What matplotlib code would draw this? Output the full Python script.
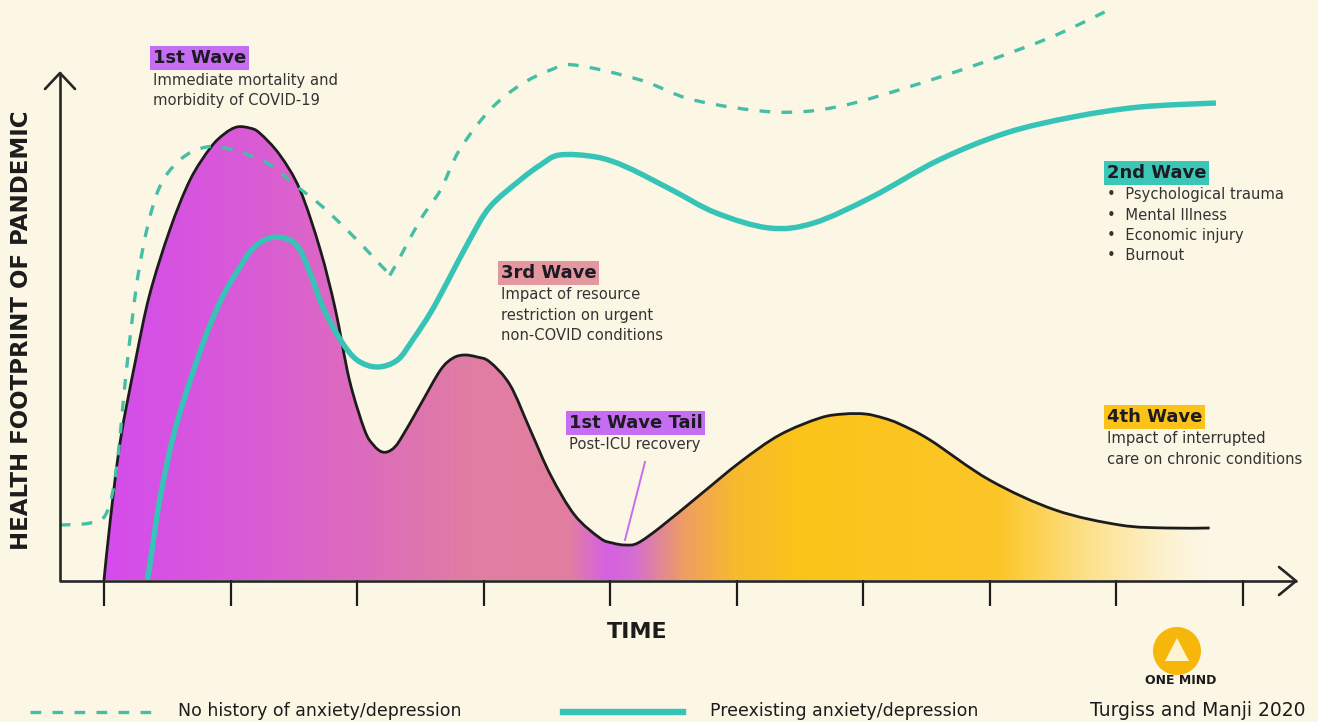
"""Health footprint of the pandemic: four waves sketch (Turgiss and Manji 2020)."""

import matplotlib

matplotlib.use("Agg")
import matplotlib.pyplot as plt
import numpy as np
from matplotlib.colors import LinearSegmentedColormap
from matplotlib.lines import Line2D
from matplotlib.patches import Ellipse, PathPatch, Polygon
from matplotlib.path import Path

W, H = 1318, 722

BG = "#FCF6E5"
INK = "#1C1C1C"
TEXT = "#333333"
TEAL = "#35C4B6"
TEAL_DASH = "#45BFA3"
VIOLET = "#C66EF2"
PINK = "#E3989F"
YELLOW = "#FBC21A"
TEAL_BOX = "#3CC6B6"

# time axis ticks
TICKS = list(range(10))

# total health footprint (black outline, filled)
total_t = [0.00, 0.05, 0.13, 0.25, 0.36, 0.52, 0.68, 0.84, 0.95, 1.05, 1.15, 1.23, 1.39,
           1.55, 1.71, 1.83, 1.94, 2.06, 2.13, 2.20, 2.27, 2.34, 2.50, 2.66, 2.76, 2.85,
           2.95, 3.05, 3.21, 3.37, 3.53, 3.72, 3.92, 4.02, 4.12, 4.22, 4.40, 4.71, 5.03,
           5.34, 5.66, 5.85, 6.02, 6.16, 6.29, 6.53, 7.00, 7.52, 8.03, 8.40, 8.74]
total_y = [0.0, 6.0, 14.0, 22.0, 28.5, 35.0, 40.0, 43.2, 44.6, 45.3, 45.2, 44.7, 42.5,
           39.0, 33.0, 27.0, 20.0, 15.0, 13.5, 12.8, 13.0, 14.0, 17.5, 21.0, 22.2, 22.5,
           22.3, 21.8, 19.5, 15.0, 10.5, 6.5, 4.2, 3.7, 3.5, 3.7, 5.3, 8.5, 11.8,
           14.5, 16.2, 16.6, 16.6, 16.2, 15.6, 14.0, 10.0, 7.0, 5.5, 5.2, 5.2]

# preexisting anxiety/depression (solid teal)
pre_t = [0.34, 0.36, 0.44, 0.55, 0.68, 0.81, 0.94, 1.08, 1.18, 1.31, 1.45, 1.55, 1.65,
         1.73, 1.87, 2.00, 2.16, 2.32, 2.44, 2.58, 2.71, 2.89, 3.05, 3.29, 3.45, 3.60,
         3.89, 4.13, 4.49, 4.84, 5.26, 5.61, 6.07, 6.60, 7.13, 7.66, 8.19, 8.79]
pre_y = [0.0, 1.3, 8.0, 14.5, 19.9, 24.6, 28.4, 31.4, 33.2, 34.2, 34.1, 33.0, 30.0,
         27.3, 24.0, 22.0, 21.3, 22.0, 24.0, 26.7, 29.7, 34.0, 37.3, 40.0, 41.5, 42.5,
         42.3, 41.3, 39.0, 36.7, 35.2, 35.7, 38.3, 42.0, 44.7, 46.3, 47.3, 47.7]

# no history of anxiety/depression (dashed teal)
none_t = [-0.35, -0.11, 0.02, 0.10, 0.18, 0.28, 0.42, 0.60, 0.81, 1.02, 1.29, 1.49, 1.73,
          2.00, 2.24, 2.27, 2.50, 2.66, 2.81, 3.05, 3.29, 3.53, 3.72, 4.24, 4.66, 5.30,
          5.79, 6.36, 6.96, 7.49, 7.91]
none_y = [5.5, 5.7, 6.7, 11.3, 21.3, 31.3, 38.7, 42.0, 43.3, 43.0, 41.7, 39.7, 37.3,
          34.0, 30.8, 30.7, 36.0, 39.0, 43.0, 47.0, 49.5, 51.0, 51.5, 50.0, 48.0, 46.8,
          47.3, 49.3, 51.8, 54.3, 56.8]

LEGEND_LABELS = ["No history of anxiety/depression", "Preexisting anxiety/depression"]
SOURCE = "Turgiss and Manji 2020"

WAVE_NOTES = [
    ("1st Wave", VIOLET, (153, 58), ["Immediate mortality and", "morbidity of COVID-19"]),
    ("3rd Wave", PINK, (501, 273), ["Impact of resource", "restriction on urgent", "non-COVID conditions"]),
    ("1st Wave Tail", VIOLET, (569, 423), ["Post-ICU recovery"]),
    ("2nd Wave", TEAL_BOX, (1107, 173), ["\u2022  Psychological trauma", "\u2022  Mental Illness",
                                          "\u2022  Economic injury", "\u2022  Burnout"]),
    ("4th Wave", YELLOW, (1107, 417), ["Impact of interrupted", "care on chronic conditions"]),
]


def fx(px):
    return px / W


def fy(py):
    return 1 - py / H


def smooth_path(xs, ys, close_to_base=False):
    """Bezier path through the read points (Catmull-Rom style handles)."""
    pts = np.column_stack([xs, ys]).astype(float)
    n = len(pts)
    verts = [pts[0]]
    codes = [Path.MOVETO]
    for i in range(n - 1):
        p0 = pts[max(i - 1, 0)]
        p1 = pts[i]
        p2 = pts[i + 1]
        p3 = pts[min(i + 2, n - 1)]
        verts += [p1 + (p2 - p0) / 6, p2 - (p3 - p1) / 6, p2]
        codes += [Path.CURVE4] * 3
    if close_to_base:
        verts += [(xs[-1], 0), (xs[0], 0), pts[0]]
        codes += [Path.LINETO, Path.LINETO, Path.CLOSEPOLY]
    return Path(verts, codes)


def main():
    plt.rcParams["font.family"] = ["DejaVu Sans"]
    fig = plt.figure(figsize=(W / 100, H / 100), dpi=100, facecolor=BG)
    ax = fig.add_axes([0, 0, 1, 1])
    ax.set_facecolor(BG)
    ax.set_xlim(-104 / 126.5, (W - 104) / 126.5)
    ax.set_ylim((580 - H) / 10, 58)
    ax.axis("off")

    # gradient fill under the total footprint curve
    cmap = LinearSegmentedColormap.from_list(
        "waves",
        [
            (0.00, "#D44CEC"),
            (0.12, "#D95AD8"),
            (0.24, "#DD6DBB"),
            (0.33, "#E17DA2"),
            (0.42, "#E17FA0"),
            (0.455, "#D560E2"),
            (0.48, "#D66ED0"),
            (0.525, "#EE9E62"),
            (0.57, "#F7B92E"),
            (0.63, "#FBC41A"),
            (0.81, "#FCC628"),
            (0.895, "#FDE290"),
            (0.97, "#FCF3D6"),
            (1.00, BG),
        ],
    )
    clip = PathPatch(smooth_path(total_t, total_y, close_to_base=True),
                     facecolor="none", edgecolor="none")
    ax.add_patch(clip)
    grad = np.linspace(0, 1, 512).reshape(1, -1)
    im = ax.imshow(grad, cmap=cmap, aspect="auto", extent=[total_t[0], total_t[-1], 0, 47],
                   origin="lower", zorder=1, interpolation="bilinear")
    im.set_clip_path(clip)

    ax.add_patch(PathPatch(smooth_path(total_t, total_y), facecolor="none", edgecolor=INK,
                           linewidth=2.0, joinstyle="round", zorder=3))
    ax.add_patch(PathPatch(smooth_path(pre_t, pre_y), facecolor="none", edgecolor=TEAL,
                           linewidth=3.9, capstyle="butt", joinstyle="round", zorder=4))
    ax.add_patch(PathPatch(smooth_path(none_t, none_y), facecolor="none", edgecolor=TEAL_DASH,
                           linewidth=2.4, linestyle=(0, (3.2, 3.4)), zorder=5))

    # axes with open arrowheads
    ax.vlines(TICKS, (580 - 606) / 10, 0, color=INK, linewidth=1.6, zorder=6)
    axis_kw = dict(color="#262626", linewidth=1.9, transform=fig.transFigure,
                   solid_capstyle="round", solid_joinstyle="round")
    fig.add_artist(Line2D([fx(60), fx(60), fx(1296)], [fy(73), fy(581), fy(581)], **axis_kw))
    fig.add_artist(Line2D([fx(45), fx(60), fx(75)], [fy(89), fy(73), fy(89)], **axis_kw))
    fig.add_artist(Line2D([fx(1279), fx(1296), fx(1279)], [fy(567), fy(581), fy(595)], **axis_kw))

    fig.text(fx(22), fy(330), "HEALTH FOOTPRINT OF PANDEMIC", rotation=90, ha="center",
             va="center", fontsize=16.5, fontweight="bold", color=INK)
    fig.text(fx(637), fy(632), "TIME", ha="center", va="center", fontsize=16,
             fontweight="bold", color=INK)

    # wave annotations
    for title, face, (px, py), lines in WAVE_NOTES:
        fig.text(fx(px), fy(py), title, ha="left", va="center", fontsize=13,
                 fontweight="bold", color="#1E1A24",
                 bbox=dict(boxstyle="square,pad=0.15", facecolor=face, edgecolor="none"))
        for i, line in enumerate(lines):
            fig.text(fx(px), fy(py + 22 + 20.3 * i), line, ha="left", va="center",
                     fontsize=10.6, color=TEXT)
    fig.add_artist(Line2D([fx(645), fx(625)], [fy(462), fy(540)], color=VIOLET,
                          linewidth=1.4, transform=fig.transFigure))

    # legend
    fig.add_artist(Line2D([fx(30), fx(160)], [fy(712), fy(712)], color=TEAL_DASH,
                          linewidth=2.4, dashes=(3.2, 3.4), transform=fig.transFigure))
    fig.add_artist(Line2D([fx(563), fx(683)], [fy(712), fy(712)], color=TEAL,
                          linewidth=4.6, transform=fig.transFigure))
    fig.text(fx(178), fy(711), LEGEND_LABELS[0], ha="left", va="center", fontsize=12.5, color=INK)
    fig.text(fx(710), fy(711), LEGEND_LABELS[1], ha="left", va="center", fontsize=12.5, color=INK)
    fig.text(fx(1306), fy(711), SOURCE, ha="right", va="center", fontsize=13.5, color=INK)

    # ONE MIND logo
    fig.add_artist(Ellipse((fx(1177), fy(651)), 48 / W, 48 / H, transform=fig.transFigure,
                           facecolor="#F6B70A", edgecolor="none"))
    fig.add_artist(Polygon([(fx(1177), fy(638)), (fx(1165), fy(661)), (fx(1189), fy(661))],
                           closed=True, transform=fig.transFigure, facecolor="#FFF4D0",
                           edgecolor="none"))
    fig.text(fx(1181), fy(680), "ONE MIND", ha="center", va="center", fontsize=9,
             fontweight="bold", color=INK)

    fig.savefig("out.png", dpi=100, facecolor=BG)


if __name__ == "__main__":
    main()
